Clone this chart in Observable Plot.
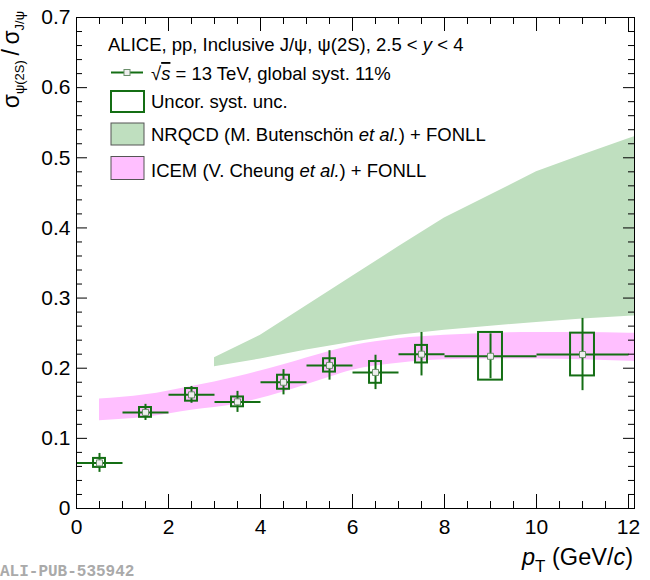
<!DOCTYPE html>
<html><head><meta charset="utf-8">
<script src="https://cdn.jsdelivr.net/npm/d3@7"></script>
<script src="https://cdn.jsdelivr.net/npm/@observablehq/plot@0.6"></script>
<style>
html,body{margin:0;padding:0;background:#fff;}
#chart{position:relative;width:650px;height:580px;}
svg{display:block;}
</style></head><body><div id="chart"></div>
<script>
// ALICE psi(2S)/J/psi ratio, pp 13 TeV
const binLow  = [0, 1, 2, 3, 4, 5, 6, 7, 8, 10];
const binHigh = [1, 2, 3, 4, 5, 6, 7, 8, 10, 12];
const ratio   = [0.065, 0.137, 0.162, 0.152, 0.180, 0.204, 0.194, 0.220, 0.217, 0.2195];
const statErr = [0.0135, 0.0115, 0.012, 0.015, 0.018, 0.021, 0.0245, 0.031, 0.032, 0.0515];
const systErr = [0.0064, 0.007, 0.009, 0.007, 0.010, 0.0095, 0.0155, 0.0125, 0.034, 0.0305];

// NRQCD (Butenschoen et al.) + FONLL band
const nrqcdPt   = [3, 4, 5, 6, 7, 8, 9, 10, 11, 12, 12.5];
const nrqcdLow  = [0.202, 0.213, 0.226, 0.237, 0.247, 0.254, 0.260, 0.265, 0.270, 0.274, 0.276];
const nrqcdHigh = [0.215, 0.247, 0.289, 0.331, 0.373, 0.414, 0.447, 0.480, 0.504, 0.527, 0.538];

// ICEM (Cheung et al.) + FONLL band
const icemPt   = [0.5, 1.5, 2.5, 3.5, 4.5, 5.5, 6, 7, 8, 9, 10, 11, 12, 12.5];
const icemLow  = [0.125, 0.130, 0.140, 0.149, 0.166, 0.187, 0.197, 0.207, 0.212, 0.213, 0.213, 0.212, 0.210, 0.209];
const icemHigh = [0.156, 0.162, 0.174, 0.188, 0.205, 0.224, 0.232, 0.242, 0.247, 0.250, 0.251, 0.251, 0.250, 0.250];

const xMajor = [0, 2, 4, 6, 8, 10, 12];
const yMajor = [0, 0.1, 0.2, 0.3, 0.4, 0.5, 0.6, 0.7];
const xMinor = d3.range(0, 12.001, 0.5);
const yMinor = d3.range(0, 0.7001, 0.02);

const W = 650, H = 580;
const mL = 76, mR = 16, mT = 17, mB = 72;
const innerW = W - mL - mR, innerH = H - mT - mB;
const dg = "#146e14";
const font = "'Liberation Sans', Arial, Helvetica, sans-serif";

const points = binLow.map((lo, i) => ({lo, hi: binHigh[i], x: (lo + binHigh[i]) / 2, y: ratio[i], stat: statErr[i], syst: systErr[i]}));
const nrqcd = nrqcdPt.map((x, i) => ({x, lo: nrqcdLow[i], hi: nrqcdHigh[i]}));
const icem = icemPt.map((x, i) => ({x, lo: icemLow[i], hi: icemHigh[i]}));

const tickLen = {xMaj: 14, xMin: 7, yMaj: 11, yMin: 6};
const xMinorOnly = xMinor.filter(v => !xMajor.includes(v));
const yMinorOnly = yMinor.filter(v => !yMajor.some(m => Math.abs(m - v) < 1e-9));

const svgEl = Plot.plot({
  width: W, height: H,
  marginLeft: mL, marginRight: mR, marginTop: mT, marginBottom: mB,
  style: {fontFamily: font, fontSize: "21px", color: "black", background: "white"},
  x: {domain: [0, 12.13]},
  y: {domain: [0, 0.7]},
  marks: [
    Plot.areaY(nrqcd, {x: "x", y1: "lo", y2: "hi", fill: "#bfdfbf", clip: true}),
    Plot.areaY(icem, {x: "x", y1: "lo", y2: "hi", fill: "#ffbfff", curve: "monotone-x", clip: true}),
    Plot.rect(points, {x1: d => d.x - 0.13 * (d.hi - d.lo), x2: d => d.x + 0.13 * (d.hi - d.lo), y1: d => d.y - d.syst, y2: d => d.y + d.syst, fill: "none", stroke: dg, strokeWidth: 2}),
    Plot.link(points, {x1: "lo", x2: "hi", y1: "y", y2: "y", stroke: dg, strokeWidth: 2}),
    Plot.ruleX(points, {x: "x", y1: d => d.y - d.stat, y2: d => d.y + d.stat, stroke: dg, strokeWidth: 2}),
    Plot.dot(points, {x: "x", y: "y", symbol: "square", r: 3.4, fill: "#eeeeee", stroke: "#6b8f6b", strokeWidth: 1}),
    // inward ticks (bottom, top, left, right)
    Plot.ruleX(xMajor, {x: d => d, insetTop: innerH - tickLen.xMaj, stroke: "black"}),
    Plot.ruleX(xMinorOnly, {x: d => d, insetTop: innerH - tickLen.xMin, stroke: "black"}),
    Plot.ruleX(xMajor, {x: d => d, insetBottom: innerH - tickLen.xMaj, stroke: "black"}),
    Plot.ruleX(xMinorOnly, {x: d => d, insetBottom: innerH - tickLen.xMin, stroke: "black"}),
    Plot.ruleY(yMajor, {y: d => d, insetRight: innerW - tickLen.yMaj, stroke: "black"}),
    Plot.ruleY(yMinorOnly, {y: d => d, insetRight: innerW - tickLen.yMin, stroke: "black"}),
    Plot.ruleY(yMajor, {y: d => d, insetLeft: innerW - tickLen.yMaj, stroke: "black"}),
    Plot.ruleY(yMinorOnly, {y: d => d, insetLeft: innerW - tickLen.yMin, stroke: "black"}),
    Plot.axisX({ticks: xMajor, tickSize: 0, tickPadding: 11, label: null, tickFormat: d3.format("~g")}),
    Plot.axisY({ticks: yMajor, tickSize: 0, tickPadding: 6, label: null, tickFormat: d3.format("~g")}),
    Plot.frame({stroke: "black", strokeWidth: 1})
  ]
});
document.getElementById("chart").appendChild(svgEl);

const svg = d3.select(svgEl);

// Y axis title
const yt = svg.append("text").attr("transform", "translate(19,11) rotate(-90)")
  .attr("text-anchor", "end").attr("fill", "black").style("font-size", "23px").style("font-family", font);
yt.append("tspan").text("σ");
yt.append("tspan").attr("dy", 5).style("font-size", "13px").text("ψ(2S)");
yt.append("tspan").attr("dy", -5).text("\u2009/\u2009σ");
yt.append("tspan").attr("dy", 5).style("font-size", "13px").text("J/ψ");

// X axis title
const xt = svg.append("text").attr("x", 633).attr("y", 565)
  .attr("text-anchor", "end").attr("fill", "black").style("font-size", "23.5px").style("font-family", font);
xt.append("tspan").style("font-style", "italic").text("p");
xt.append("tspan").attr("dy", 7).style("font-size", "17px").text("T");
xt.append("tspan").attr("dy", -7).text(" (GeV/");
xt.append("tspan").style("font-style", "italic").text("c");
xt.append("tspan").text(")");

// Watermark
svg.append("text").attr("x", 0).attr("y", 576).attr("text-anchor", "start").attr("fill", "#aaaaaa")
  .style("font-family", "'Liberation Mono', 'Courier New', monospace").style("font-weight", "bold").style("font-size", "16px")
  .text("ALI-PUB-535942");

// Legend
const lg = svg.append("g").attr("text-anchor", "start").style("font-family", font).style("font-size", "18.5px").attr("fill", "black");
const t1 = lg.append("text").attr("x", 108).attr("y", 50.5);
t1.append("tspan").text("ALICE, pp, Inclusive J/ψ, ψ(2S), 2.5 < ");
t1.append("tspan").style("font-style", "italic").text("y");
t1.append("tspan").text(" < 4");

lg.append("line").attr("x1", 111).attr("x2", 143).attr("y1", 72.5).attr("y2", 72.5).attr("stroke", dg).attr("stroke-width", 2);
lg.append("rect").attr("x", 124).attr("y", 69.5).attr("width", 6).attr("height", 6).attr("fill", "#eeeeee").attr("stroke", "#6b8f6b");
const t2 = lg.append("text").attr("x", 151).attr("y", 80);
t2.append("tspan").text("√");
t2.append("tspan").style("font-style", "italic").style("text-decoration", "overline").text("s");
t2.append("tspan").text(" = 13 TeV, global syst. 11%");

lg.append("rect").attr("x", 111).attr("y", 91).attr("width", 33).attr("height", 21).attr("fill", "none").attr("stroke", dg).attr("stroke-width", 2);
lg.append("text").attr("x", 151).attr("y", 107.5).text("Uncor. syst. unc.");

lg.append("rect").attr("x", 111).attr("y", 123).attr("width", 33).attr("height", 22).attr("fill", "#bfdfbf").attr("stroke", "#555");
const t4 = lg.append("text").attr("x", 151).attr("y", 140.7);
t4.append("tspan").text("NRQCD (M. Butenschön ");
t4.append("tspan").style("font-style", "italic").text("et al.");
t4.append("tspan").text(") + FONLL");

lg.append("rect").attr("x", 111).attr("y", 156.5).attr("width", 33).attr("height", 23).attr("fill", "#ffbfff").attr("stroke", "#555");
const t5 = lg.append("text").attr("x", 151).attr("y", 176.5);
t5.append("tspan").text("ICEM (V. Cheung ");
t5.append("tspan").style("font-style", "italic").text("et al.");
t5.append("tspan").text(") + FONLL");
</script></body></html>
